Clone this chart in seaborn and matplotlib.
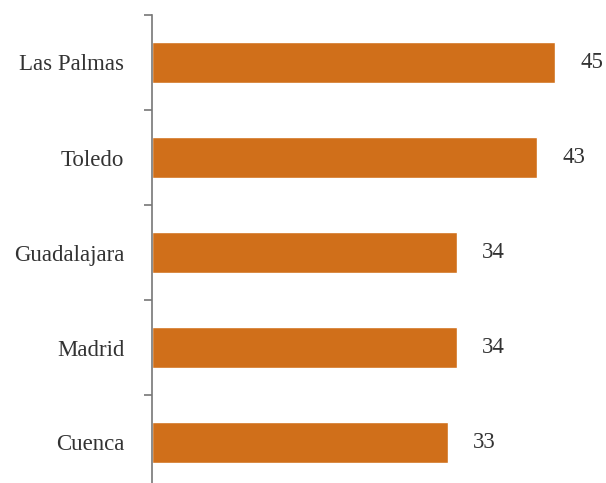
import numpy as np
import pandas as pd
import matplotlib
matplotlib.use("Agg")
import matplotlib.pyplot as plt
import seaborn as sns
from matplotlib.ticker import FixedLocator

provinces = ["Las Palmas", "Toledo", "Guadalajara", "Madrid", "Cuenca"]
values = [45, 43, 34, 34, 33]

df = pd.DataFrame({"Provincia": provinces, "Valor": values})

sns.set_style("white")
plt.rcParams['font.family'] = ['Liberation Serif', 'DejaVu Serif']

fig = plt.figure(figsize=(6.06, 4.83), dpi=100)
ax = fig.add_axes([152 / 606, 0.0, 1 - 152 / 606, 1 - 15 / 483])

sns.barplot(data=df, y="Provincia", x="Valor", orient="h", color="#D06F1A",
            width=0.43, saturation=1, ax=ax)

# bar value labels, a little right of each bar end
for i, v in enumerate(values):
    ax.annotate(str(v), xy=(v, i), xytext=(18, 0), textcoords="offset points",
                ha="left", va="center", fontsize=16.5, color="#333333",
                annotation_clip=False)

ax.set_xlim(0, (606 - 152) / 8.956)
ax.set_ylim(-0.5 + 468 / 95, -0.5)

for s in ["top", "right", "bottom"]:
    ax.spines[s].set_visible(False)
ax.spines["left"].set_color("#777777")
ax.spines["left"].set_linewidth(1.2)

ax.set_xticks([])
ax.set_xlabel("")
ax.set_ylabel("")
ax.tick_params(axis="y", which="major", length=0, pad=20, labelsize=16.5, labelcolor="#333333")
ax.yaxis.set_minor_locator(FixedLocator(np.arange(-0.5, len(provinces) - 0.5, 1.0)))
ax.tick_params(axis="y", which="minor", length=6, width=1.2, color="#777777", left=True)

fig.savefig("out.png", dpi=100)
